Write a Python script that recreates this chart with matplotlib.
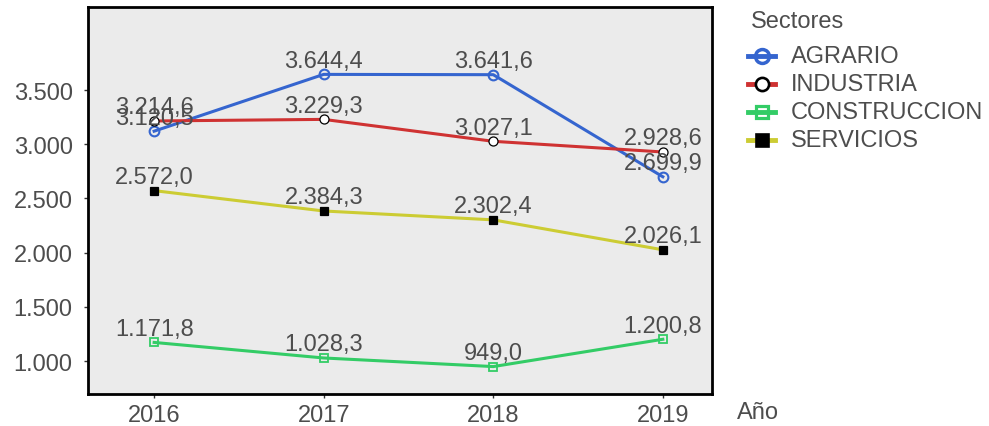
import matplotlib
matplotlib.use("Agg")
import matplotlib.pyplot as plt
from matplotlib.lines import Line2D
from matplotlib.ticker import FixedLocator, FuncFormatter

plt.rcParams['font.family'] = ['Liberation Sans', 'DejaVu Sans']

years = [2016, 2017, 2018, 2019]
sectores = ['AGRARIO', 'INDUSTRIA', 'CONSTRUCCION', 'SERVICIOS']
agrario = [3120.5, 3644.4, 3641.6, 2699.9]
industria = [3214.6, 3229.3, 3027.1, 2928.6]
construccion = [1171.8, 1028.3, 949.0, 1200.8]
servicios = [2572.0, 2384.3, 2302.4, 2026.1]
y_ticks = [1000, 1500, 2000, 2500, 3000, 3500]

TXT = '#4D4D4D'
FS = 17
W, H = 989, 427


def es_num(v, dec=1):
    s = f"{v:,.{dec}f}"
    return s.replace(',', 'X').replace('.', ',').replace('X', '.')


def fx(px):
    return px / W


def fy(py):
    return 1 - py / H


styles = {
    'AGRARIO': dict(color='#3565CF', marker='o', mfc='none', mec='#3565CF', ms=7, mew=1.5),
    'INDUSTRIA': dict(color='#CF3232', marker='o', mfc='white', mec='black', ms=6.5, mew=0.9),
    'CONSTRUCCION': dict(color='#33CC66', marker='s', mfc='none', mec='#33CC66', ms=6, mew=1.3),
    'SERVICIOS': dict(color='#CCCC33', marker='s', mfc='black', mec='black', ms=5.5, mew=0.9),
}
series = dict(zip(sectores, [agrario, industria, construccion, servicios]))

fig = plt.figure(figsize=(W / 100, H / 100), dpi=100)
ax = fig.add_axes([fx(88), fy(395), fx(712) - fx(88), fy(8) - fy(395)])
ax.set_facecolor('#EBEBEB')

for name in sectores:
    st = styles[name]
    vals = series[name]
    ax.plot(years, vals, color=st['color'], lw=2.2, marker=st['marker'],
            markerfacecolor=st['mfc'], markeredgecolor=st['mec'],
            markersize=st['ms'], markeredgewidth=st['mew'], zorder=3)
    for x, v in zip(years, vals):
        ax.annotate(es_num(v), (x, v), xytext=(0, 5.5), textcoords='offset points',
                    ha='center', va='baseline', fontsize=FS, color=TXT, zorder=4)

ax.set_xlim(2015.61, 2019.29)
ax.set_ylim(696, 4266)
ax.xaxis.set_major_locator(FixedLocator(years))
ax.xaxis.set_major_formatter(FuncFormatter(lambda v, p: f"{int(round(v))}"))
ax.yaxis.set_major_locator(FixedLocator(y_ticks))
ax.yaxis.set_major_formatter(FuncFormatter(lambda v, p: es_num(v, 0)))
ax.tick_params(axis='both', labelsize=FS, colors='#333333', labelcolor=TXT,
               length=3, width=1, direction='out')
ax.tick_params(axis='x', pad=4)
ax.tick_params(axis='y', pad=8)
for sp in ax.spines.values():
    sp.set_linewidth(2)
    sp.set_color('black')

fig.text(fx(737), fy(413), 'Año', fontsize=FS, color=TXT, ha='left', va='center')

# Legend drawn by hand in figure pixel positions
fig.text(fx(751), fy(22), 'Sectores', fontsize=FS, color=TXT, ha='left', va='center')
row_y = [57, 85, 113, 141]
for name, yy in zip(sectores, row_y):
    st = styles[name]
    fig.add_artist(Line2D([fx(748), fx(775)], [fy(yy), fy(yy)], color=st['color'],
                          lw=3.5, transform=fig.transFigure))
    fig.add_artist(Line2D([fx(761.5)], [fy(yy)], linestyle='none', marker=st['marker'],
                          markerfacecolor=st['mfc'], markeredgecolor=st['mec'],
                          markersize=st['ms'] + 3, markeredgewidth=st['mew'] + 1,
                          transform=fig.transFigure))
    fig.text(fx(791), fy(yy), name, fontsize=FS, color=TXT, ha='left', va='center')

fig.savefig('out.png', dpi=100)
